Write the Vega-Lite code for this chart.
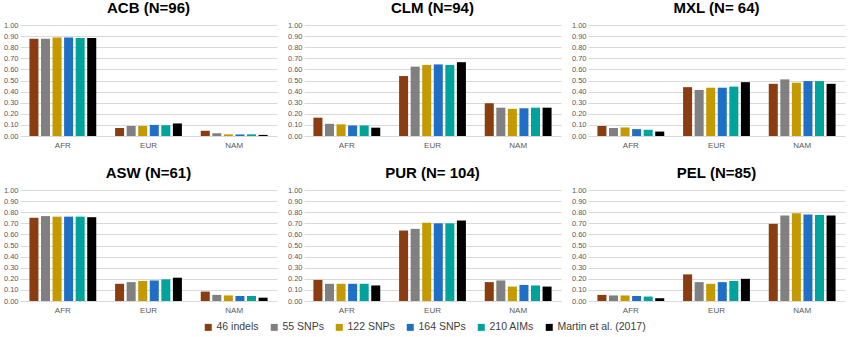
{
  "$schema": "https://vega.github.io/schema/vega-lite/v6.json",
  "background": "white",
  "padding": {"left": 3, "top": 1, "right": 3, "bottom": 2},
  "data": {"values": [
    {"pop":"ACB (N=96)","anc":"AFR","method":"46 indels","value":0.877},
    {"pop":"ACB (N=96)","anc":"AFR","method":"55 SNPs","value":0.877},
    {"pop":"ACB (N=96)","anc":"AFR","method":"122 SNPs","value":0.887},
    {"pop":"ACB (N=96)","anc":"AFR","method":"164 SNPs","value":0.888},
    {"pop":"ACB (N=96)","anc":"AFR","method":"210 AIMs","value":0.882},
    {"pop":"ACB (N=96)","anc":"AFR","method":"Martin et al. (2017)","value":0.882},
    {"pop":"ACB (N=96)","anc":"EUR","method":"46 indels","value":0.072},
    {"pop":"ACB (N=96)","anc":"EUR","method":"55 SNPs","value":0.09},
    {"pop":"ACB (N=96)","anc":"EUR","method":"122 SNPs","value":0.09},
    {"pop":"ACB (N=96)","anc":"EUR","method":"164 SNPs","value":0.10},
    {"pop":"ACB (N=96)","anc":"EUR","method":"210 AIMs","value":0.097},
    {"pop":"ACB (N=96)","anc":"EUR","method":"Martin et al. (2017)","value":0.113},
    {"pop":"ACB (N=96)","anc":"NAM","method":"46 indels","value":0.047},
    {"pop":"ACB (N=96)","anc":"NAM","method":"55 SNPs","value":0.025},
    {"pop":"ACB (N=96)","anc":"NAM","method":"122 SNPs","value":0.015},
    {"pop":"ACB (N=96)","anc":"NAM","method":"164 SNPs","value":0.014},
    {"pop":"ACB (N=96)","anc":"NAM","method":"210 AIMs","value":0.015},
    {"pop":"ACB (N=96)","anc":"NAM","method":"Martin et al. (2017)","value":0.01},
    {"pop":"CLM (N=94)","anc":"AFR","method":"46 indels","value":0.165},
    {"pop":"CLM (N=94)","anc":"AFR","method":"55 SNPs","value":0.11},
    {"pop":"CLM (N=94)","anc":"AFR","method":"122 SNPs","value":0.105},
    {"pop":"CLM (N=94)","anc":"AFR","method":"164 SNPs","value":0.095},
    {"pop":"CLM (N=94)","anc":"AFR","method":"210 AIMs","value":0.095},
    {"pop":"CLM (N=94)","anc":"AFR","method":"Martin et al. (2017)","value":0.075},
    {"pop":"CLM (N=94)","anc":"EUR","method":"46 indels","value":0.54},
    {"pop":"CLM (N=94)","anc":"EUR","method":"55 SNPs","value":0.625},
    {"pop":"CLM (N=94)","anc":"EUR","method":"122 SNPs","value":0.64},
    {"pop":"CLM (N=94)","anc":"EUR","method":"164 SNPs","value":0.645},
    {"pop":"CLM (N=94)","anc":"EUR","method":"210 AIMs","value":0.64},
    {"pop":"CLM (N=94)","anc":"EUR","method":"Martin et al. (2017)","value":0.665},
    {"pop":"CLM (N=94)","anc":"NAM","method":"46 indels","value":0.295},
    {"pop":"CLM (N=94)","anc":"NAM","method":"55 SNPs","value":0.255},
    {"pop":"CLM (N=94)","anc":"NAM","method":"122 SNPs","value":0.245},
    {"pop":"CLM (N=94)","anc":"NAM","method":"164 SNPs","value":0.25},
    {"pop":"CLM (N=94)","anc":"NAM","method":"210 AIMs","value":0.255},
    {"pop":"CLM (N=94)","anc":"NAM","method":"Martin et al. (2017)","value":0.255},
    {"pop":"MXL (N= 64)","anc":"AFR","method":"46 indels","value":0.09},
    {"pop":"MXL (N= 64)","anc":"AFR","method":"55 SNPs","value":0.072},
    {"pop":"MXL (N= 64)","anc":"AFR","method":"122 SNPs","value":0.077},
    {"pop":"MXL (N= 64)","anc":"AFR","method":"164 SNPs","value":0.062},
    {"pop":"MXL (N= 64)","anc":"AFR","method":"210 AIMs","value":0.056},
    {"pop":"MXL (N= 64)","anc":"AFR","method":"Martin et al. (2017)","value":0.04},
    {"pop":"MXL (N= 64)","anc":"EUR","method":"46 indels","value":0.44},
    {"pop":"MXL (N= 64)","anc":"EUR","method":"55 SNPs","value":0.415},
    {"pop":"MXL (N= 64)","anc":"EUR","method":"122 SNPs","value":0.435},
    {"pop":"MXL (N= 64)","anc":"EUR","method":"164 SNPs","value":0.435},
    {"pop":"MXL (N= 64)","anc":"EUR","method":"210 AIMs","value":0.445},
    {"pop":"MXL (N= 64)","anc":"EUR","method":"Martin et al. (2017)","value":0.485},
    {"pop":"MXL (N= 64)","anc":"NAM","method":"46 indels","value":0.47},
    {"pop":"MXL (N= 64)","anc":"NAM","method":"55 SNPs","value":0.51},
    {"pop":"MXL (N= 64)","anc":"NAM","method":"122 SNPs","value":0.48},
    {"pop":"MXL (N= 64)","anc":"NAM","method":"164 SNPs","value":0.495},
    {"pop":"MXL (N= 64)","anc":"NAM","method":"210 AIMs","value":0.495},
    {"pop":"MXL (N= 64)","anc":"NAM","method":"Martin et al. (2017)","value":0.47},
    {"pop":"ASW (N=61)","anc":"AFR","method":"46 indels","value":0.75},
    {"pop":"ASW (N=61)","anc":"AFR","method":"55 SNPs","value":0.765},
    {"pop":"ASW (N=61)","anc":"AFR","method":"122 SNPs","value":0.76},
    {"pop":"ASW (N=61)","anc":"AFR","method":"164 SNPs","value":0.76},
    {"pop":"ASW (N=61)","anc":"AFR","method":"210 AIMs","value":0.76},
    {"pop":"ASW (N=61)","anc":"AFR","method":"Martin et al. (2017)","value":0.755},
    {"pop":"ASW (N=61)","anc":"EUR","method":"46 indels","value":0.155},
    {"pop":"ASW (N=61)","anc":"EUR","method":"55 SNPs","value":0.17},
    {"pop":"ASW (N=61)","anc":"EUR","method":"122 SNPs","value":0.18},
    {"pop":"ASW (N=61)","anc":"EUR","method":"164 SNPs","value":0.185},
    {"pop":"ASW (N=61)","anc":"EUR","method":"210 AIMs","value":0.195},
    {"pop":"ASW (N=61)","anc":"EUR","method":"Martin et al. (2017)","value":0.21},
    {"pop":"ASW (N=61)","anc":"NAM","method":"46 indels","value":0.085},
    {"pop":"ASW (N=61)","anc":"NAM","method":"55 SNPs","value":0.055},
    {"pop":"ASW (N=61)","anc":"NAM","method":"122 SNPs","value":0.05},
    {"pop":"ASW (N=61)","anc":"NAM","method":"164 SNPs","value":0.045},
    {"pop":"ASW (N=61)","anc":"NAM","method":"210 AIMs","value":0.045},
    {"pop":"ASW (N=61)","anc":"NAM","method":"Martin et al. (2017)","value":0.03},
    {"pop":"PUR (N= 104)","anc":"AFR","method":"46 indels","value":0.19},
    {"pop":"PUR (N= 104)","anc":"AFR","method":"55 SNPs","value":0.155},
    {"pop":"PUR (N= 104)","anc":"AFR","method":"122 SNPs","value":0.155},
    {"pop":"PUR (N= 104)","anc":"AFR","method":"164 SNPs","value":0.155},
    {"pop":"PUR (N= 104)","anc":"AFR","method":"210 AIMs","value":0.155},
    {"pop":"PUR (N= 104)","anc":"AFR","method":"Martin et al. (2017)","value":0.14},
    {"pop":"PUR (N= 104)","anc":"EUR","method":"46 indels","value":0.635},
    {"pop":"PUR (N= 104)","anc":"EUR","method":"55 SNPs","value":0.65},
    {"pop":"PUR (N= 104)","anc":"EUR","method":"122 SNPs","value":0.705},
    {"pop":"PUR (N= 104)","anc":"EUR","method":"164 SNPs","value":0.70},
    {"pop":"PUR (N= 104)","anc":"EUR","method":"210 AIMs","value":0.70},
    {"pop":"PUR (N= 104)","anc":"EUR","method":"Martin et al. (2017)","value":0.725},
    {"pop":"PUR (N= 104)","anc":"NAM","method":"46 indels","value":0.17},
    {"pop":"PUR (N= 104)","anc":"NAM","method":"55 SNPs","value":0.185},
    {"pop":"PUR (N= 104)","anc":"NAM","method":"122 SNPs","value":0.13},
    {"pop":"PUR (N= 104)","anc":"NAM","method":"164 SNPs","value":0.145},
    {"pop":"PUR (N= 104)","anc":"NAM","method":"210 AIMs","value":0.14},
    {"pop":"PUR (N= 104)","anc":"NAM","method":"Martin et al. (2017)","value":0.13},
    {"pop":"PEL (N=85)","anc":"AFR","method":"46 indels","value":0.055},
    {"pop":"PEL (N=85)","anc":"AFR","method":"55 SNPs","value":0.05},
    {"pop":"PEL (N=85)","anc":"AFR","method":"122 SNPs","value":0.05},
    {"pop":"PEL (N=85)","anc":"AFR","method":"164 SNPs","value":0.045},
    {"pop":"PEL (N=85)","anc":"AFR","method":"210 AIMs","value":0.04},
    {"pop":"PEL (N=85)","anc":"AFR","method":"Martin et al. (2017)","value":0.025},
    {"pop":"PEL (N=85)","anc":"EUR","method":"46 indels","value":0.24},
    {"pop":"PEL (N=85)","anc":"EUR","method":"55 SNPs","value":0.17},
    {"pop":"PEL (N=85)","anc":"EUR","method":"122 SNPs","value":0.155},
    {"pop":"PEL (N=85)","anc":"EUR","method":"164 SNPs","value":0.17},
    {"pop":"PEL (N=85)","anc":"EUR","method":"210 AIMs","value":0.18},
    {"pop":"PEL (N=85)","anc":"EUR","method":"Martin et al. (2017)","value":0.20},
    {"pop":"PEL (N=85)","anc":"NAM","method":"46 indels","value":0.695},
    {"pop":"PEL (N=85)","anc":"NAM","method":"55 SNPs","value":0.77},
    {"pop":"PEL (N=85)","anc":"NAM","method":"122 SNPs","value":0.79},
    {"pop":"PEL (N=85)","anc":"NAM","method":"164 SNPs","value":0.78},
    {"pop":"PEL (N=85)","anc":"NAM","method":"210 AIMs","value":0.775},
    {"pop":"PEL (N=85)","anc":"NAM","method":"Martin et al. (2017)","value":0.77}
  ]},
  "facet": {
    "field": "pop",
    "type": "nominal",
    "sort": ["ACB (N=96)","CLM (N=94)","MXL (N= 64)","ASW (N=61)","PUR (N= 104)","PEL (N=85)"],
    "title": null,
    "header": {"labelFont": "Liberation Sans", "labelFontSize": 15, "labelFontWeight": "bold", "labelColor": "#000000", "labelPadding": 5}
  },
  "columns": 3,
  "spacing": {"row": 17, "column": 10},
  "resolve": {"axis": {"x": "independent", "y": "independent"}},
  "spec": {
    "width": 257,
    "height": 111,
    "mark": {"type": "bar"},
    "encoding": {
      "x": {"field": "anc", "type": "nominal", "title": null,
        "scale": {"paddingInner": 0.22, "paddingOuter": 0.11},
        "axis": {"labelAngle": 0, "labelFont": "Liberation Sans", "labelFontSize": 8, "labelColor": "#595959", "domain": false, "ticks": false, "labelPadding": 5}},
      "xOffset": {"field": "method", "type": "nominal",
        "sort": ["46 indels","55 SNPs","122 SNPs","164 SNPs","210 AIMs","Martin et al. (2017)"],
        "scale": {"paddingInner": 0.22}},
      "y": {"field": "value", "type": "quantitative", "title": null,
        "scale": {"domain": [0, 1], "nice": false},
        "axis": {"values": [0,0.1,0.2,0.3,0.4,0.5,0.6,0.7,0.8,0.9,1.0], "format": ".2f", "labelFont": "Liberation Sans", "labelFontSize": 7.5, "labelColor": "#595959", "domain": false, "ticks": false, "gridColor": "#D9D9D9", "labelPadding": 2}},
      "color": {"field": "method", "type": "nominal", "title": null,
        "sort": ["46 indels","55 SNPs","122 SNPs","164 SNPs","210 AIMs","Martin et al. (2017)"],
        "scale": {"domain": ["46 indels","55 SNPs","122 SNPs","164 SNPs","210 AIMs","Martin et al. (2017)"],
                  "range": ["#8A3D10","#808080","#C49A00","#1F6FC4","#00A29C","#000000"]},
        "legend": {"orient": "bottom", "direction": "horizontal", "symbolType": "square", "symbolSize": 49, "symbolStrokeWidth": 0, "labelFont": "Liberation Sans", "labelFontSize": 10.5, "labelColor": "#404040", "columnPadding": 10, "labelOffset": 3, "offset": 8}
      }
    }
  },
  "config": {"view": {"stroke": null}, "legend": {"layout": {"bottom": {"anchor": "middle"}}}}
}
